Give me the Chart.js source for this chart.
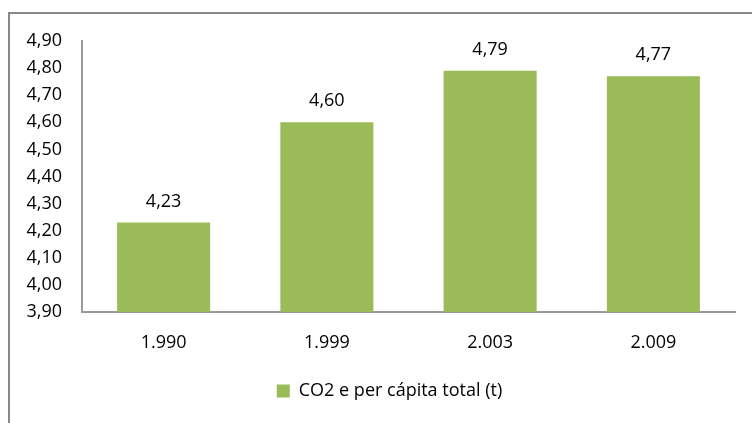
<!DOCTYPE html>
<html>
<head>
<meta charset="utf-8">
<script src="https://cdn.jsdelivr.net/npm/chart.js@4.4.1/dist/chart.umd.min.js"></script>
<style>
    html, body { margin: 0; padding: 0; background: #fff; }
    #wrap { width: 752px; height: 423px; }
</style>
</head>
<body>
<div id="wrap"><canvas id="barChart" width="752" height="423"></canvas></div>
<script>
// CO2 per cápita por ano
const anos = ['1.990', '1.999', '2.003', '2.009'];
const valores = [4.23, 4.60, 4.79, 4.77];
const rotuloSerie = 'CO2 e per cápita total (t)';
const eixoMin = 3.9;
const eixoMax = 4.9;
const eixoPasso = 0.1;

const fonte = "'Open Sans', sans-serif";
const verde = '#9bbb59';

function formatar(v) {
    return v.toFixed(2).replace('.', ',');
}

// moldura cinza em volta do gráfico
const moldura = {
    id: 'moldura',
    beforeDraw(chart) {
        const c = chart.ctx;
        c.save();
        c.strokeStyle = '#878787';
        c.lineWidth = 2;
        c.strokeRect(9, 13, 900, 600);
        c.restore();
    }
};

// valores acima de cada barra
const rotulos = {
    id: 'rotulos',
    afterDatasetsDraw(chart) {
        const c = chart.ctx;
        const meta = chart.getDatasetMeta(0);
        c.save();
        c.font = '18px ' + fonte;
        c.fillStyle = '#000';
        c.textAlign = 'center';
        c.textBaseline = 'alphabetic';
        meta.data.forEach(function(bar, i) {
            c.fillText(formatar(valores[i]), bar.x, bar.y - 16);
        });
        c.restore();
    }
};

const ctx = document.getElementById('barChart').getContext('2d');

const barChart = new Chart(ctx, {
    type: 'bar',
    data: {
        labels: anos,
        datasets: [{
            label: rotuloSerie,
            data: valores,
            backgroundColor: verde,
            borderWidth: 0,
            categoryPercentage: 1,
            barPercentage: 0.57
        }]
    },
    options: {
        responsive: false,
        animation: false,
        layout: {
            padding: { left: 8, right: 17, top: 41, bottom: 13 }
        },
        plugins: {
            legend: {
                position: 'bottom',
                labels: {
                    color: '#000',
                    boxWidth: 13,
                    boxHeight: 13,
                    padding: 10,
                    font: { family: fonte, size: 18 }
                }
            },
            tooltip: { enabled: false }
        },
        scales: {
            x: {
                grid: { display: false, drawTicks: false },
                border: { display: true, color: '#9a9a9a', width: 2 },
                ticks: {
                    color: '#000',
                    padding: 20,
                    font: { family: fonte, size: 18 }
                },
                afterFit: function(scale) { scale.height = 60; }
            },
            y: {
                min: eixoMin,
                max: eixoMax,
                grid: { display: false, drawTicks: false },
                border: { display: true, color: '#9a9a9a', width: 2 },
                ticks: {
                    stepSize: eixoPasso,
                    color: '#000',
                    padding: 20,
                    font: { family: fonte, size: 18 },
                    callback: function(v) { return formatar(v); }
                },
                afterFit: function(scale) { scale.width = 74; }
            }
        }
    },
    plugins: [moldura, rotulos]
});

// legenda um pouco deslocada para a direita
const desenharLegenda = barChart.legend.draw;
barChart.legend.draw = function() {
    const c = this.ctx;
    c.save();
    c.translate(18, 0);
    desenharLegenda.apply(this, arguments);
    c.restore();
};
barChart.draw();
</script>
</body>
</html>
